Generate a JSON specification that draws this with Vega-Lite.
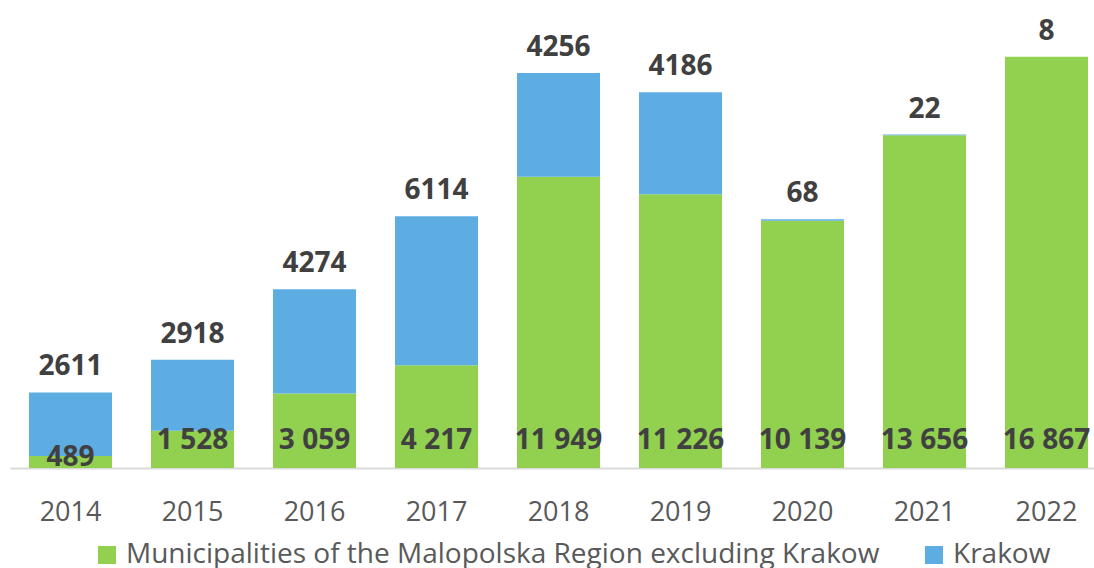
{
  "$schema": "https://vega.github.io/schema/vega-lite/v6.json",
  "autosize": "none",
  "width": 1084,
  "height": 468,
  "padding": {"left": 10, "top": 0, "right": 0, "bottom": 100},
  "background": "white",
  "config": {
    "view": {"stroke": null},
    "font": "Open Sans",
    "locale": {"number": {"decimal": ",", "thousands": " ", "grouping": [3], "currency": ["", ""]}}
  },
  "data": {
    "values": [
      {"year": "2014", "series": "Municipalities of the Malopolska Region excluding Krakow", "value": 489},
      {"year": "2014", "series": "Krakow", "value": 2611},
      {"year": "2015", "series": "Municipalities of the Malopolska Region excluding Krakow", "value": 1528},
      {"year": "2015", "series": "Krakow", "value": 2918},
      {"year": "2016", "series": "Municipalities of the Malopolska Region excluding Krakow", "value": 3059},
      {"year": "2016", "series": "Krakow", "value": 4274},
      {"year": "2017", "series": "Municipalities of the Malopolska Region excluding Krakow", "value": 4217},
      {"year": "2017", "series": "Krakow", "value": 6114},
      {"year": "2018", "series": "Municipalities of the Malopolska Region excluding Krakow", "value": 11949},
      {"year": "2018", "series": "Krakow", "value": 4256},
      {"year": "2019", "series": "Municipalities of the Malopolska Region excluding Krakow", "value": 11226},
      {"year": "2019", "series": "Krakow", "value": 4186},
      {"year": "2020", "series": "Municipalities of the Malopolska Region excluding Krakow", "value": 10139},
      {"year": "2020", "series": "Krakow", "value": 68},
      {"year": "2021", "series": "Municipalities of the Malopolska Region excluding Krakow", "value": 13656},
      {"year": "2021", "series": "Krakow", "value": 22},
      {"year": "2022", "series": "Municipalities of the Malopolska Region excluding Krakow", "value": 16867},
      {"year": "2022", "series": "Krakow", "value": 8}
    ]
  },
  "encoding": {
    "x": {
      "field": "year",
      "type": "nominal",
      "scale": {"paddingInner": 0.3197, "paddingOuter": 0.1025, "align": 0.76, "round": false},
      "axis": {
        "title": null,
        "labelAngle": 0,
        "ticks": false,
        "tickSize": 0,
        "labelPadding": 31,
        "labelFontSize": 27,
        "labelColor": "#595959",
        "labelFont": "Open Sans",
        "domainColor": "#D9D9D9",
        "domainWidth": 2,
        "grid": false
      }
    }
  },
  "layer": [
    {
      "mark": {"type": "bar"},
      "encoding": {
        "y": {
          "field": "value",
          "type": "quantitative",
          "stack": "zero",
          "scale": {"domain": [0, 19200], "nice": false, "zero": true},
          "axis": null
        },
        "color": {
          "field": "series",
          "type": "nominal",
          "scale": {
            "domain": ["Municipalities of the Malopolska Region excluding Krakow", "Krakow"],
            "range": ["#92D050", "#5DADE2"]
          },
          "legend": {
            "title": null,
            "orient": "none",
            "legendX": 83,
            "legendY": 541,
            "direction": "horizontal",
            "padding": 0,
            "symbolType": "square",
            "symbolSize": 324,
            "symbolStrokeWidth": 0,
            "labelFontSize": 28,
            "labelFont": "Open Sans",
            "labelColor": "#595959",
            "labelOffset": 5,
            "columnPadding": 40,
            "labelLimit": 1000
          }
        },
        "order": {"field": "series", "sort": "descending"}
      }
    },
    {
      "transform": [
        {"joinaggregate": [{"op": "sum", "field": "value", "as": "total"}], "groupby": ["year"]},
        {"filter": "datum.series === 'Krakow'"}
      ],
      "mark": {"type": "text", "baseline": "alphabetic", "dy": -17, "fontSize": 28, "fontWeight": "bold", "font": "Open Sans", "color": "#404040"},
      "encoding": {
        "y": {"field": "total", "type": "quantitative"},
        "text": {"field": "value", "type": "quantitative", "format": "d"}
      }
    },
    {
      "transform": [
        {"filter": "datum.series !== 'Krakow' && datum.value >= 1000"}
      ],
      "mark": {"type": "text", "baseline": "alphabetic", "dy": -19, "fontSize": 28, "fontWeight": "bold", "font": "Open Sans", "color": "#404040"},
      "encoding": {
        "y": {"datum": 0, "type": "quantitative"},
        "text": {"field": "value", "type": "quantitative", "format": ",d"}
      }
    },
    {
      "transform": [
        {"filter": "datum.series !== 'Krakow' && datum.value < 1000"}
      ],
      "mark": {"type": "text", "baseline": "alphabetic", "dy": -2, "fontSize": 28, "fontWeight": "bold", "font": "Open Sans", "color": "#404040"},
      "encoding": {
        "y": {"datum": 0, "type": "quantitative"},
        "text": {"field": "value", "type": "quantitative", "format": ",d"}
      }
    }
  ]
}
